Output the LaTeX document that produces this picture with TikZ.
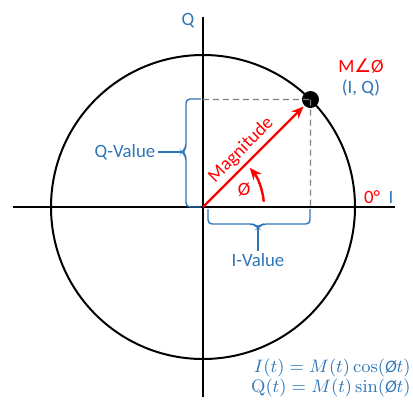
\documentclass[tikz,border=0pt]{standalone}
\usepackage{amsmath,amssymb}
\usepackage[no-math]{fontspec}
\setmainfont{Carlito}
\newfontfamily\symfont{DejaVu Sans}
\usepackage{tikz}
\usetikzlibrary{arrows.meta,positioning,calc}
\definecolor{iqblue}{HTML}{2E75B6}
\definecolor{iqred}{HTML}{FF0000}
\definecolor{iqgray}{HTML}{7F7F7F}

\begin{document}
\begin{tikzpicture}[x=0.5pt,y=0.5pt,
  axis/.style={draw=black,line width=1pt},
  lbl/.style={font=\fontsize{9.4}{10}\selectfont,text=#1,inner sep=1pt},
  bracket/.style={draw=iqblue,line width=0.7pt,rounded corners=2pt},
  proj/.style={draw=iqgray,line width=0.7pt,dash pattern=on 3pt off 2pt},
  vec/.style={-{Stealth[length=6pt,width=5pt]},draw=iqred,line width=1.2pt},
  eqn/.style={text=iqblue,anchor=east,inner sep=0pt,font=\fontsize{8.8}{10}\selectfont}
]
\useasboundingbox (-203,-196) rectangle (210,207);
\coordinate (O) at (0,0);
\coordinate (xl) at (-190,0); \coordinate (xr) at (192,0);
\coordinate (yb) at (0,-190); \coordinate (yt) at (0,190);
\draw[axis] (xl) -- (xr);
\draw[axis] (yb) -- (yt);
\draw[axis] (O) circle[radius=76pt];
\node[circle,fill=black,inner sep=0pt,minimum size=8.5pt] (pt) at (45:152) {};
% projections
\draw[proj] (0,107.5) -- (pt.center);
\draw[proj] (pt.center) -- (107.5,0);
% axis labels
\node[lbl=iqblue] (qax) at (-15,186) {Q};
\node[lbl=iqred] (zero) at (169,10) {0°};
\node[lbl=iqblue] (iax) at (188,10) {I};
\node[lbl=iqred] (polar) at (158,141) {M{\symfont ∠}Ø};
\node[lbl=iqblue] (rect) at (158,119) {(I, Q)};
% Q-Value bracket
\draw[bracket] (-2,108) -- (-17,108) -- (-17,59) -- (-21,55) -- (-17,51) -- (-17,0) -- (-2,0);
\coordinate (qtip) at (-21,55);
\node[lbl=iqblue] (qval) at (-78,55) {Q-Value};
\draw[bracket] (qtip) -- (qval.east);
% I-Value bracket
\draw[bracket] (5,-2) -- (5,-17) -- (51,-17) -- (55,-21) -- (59,-17) -- (107,-17) -- (107,-2);
\coordinate (itip) at (55,-21);
\node[lbl=iqblue] (ival) at (55,-53) {I-Value};
\draw[bracket] (itip) -- (ival.north);
% vector and angle
\draw[vec,shorten >=0.5pt] (O) -- (pt) node[pos=0.47,sloped,above=1pt,lbl=iqred] (mag) {Magnitude};
\draw[vec] (5:61) arc[start angle=5,end angle=40,radius=30.5pt];
\node[lbl=iqred] (phi) at (41,17) {Ø};
% equations
\node[eqn] (eqi) at (208,-161) {$I(t) = M(t)\cos(\mbox{\itshape Ø}t)$};
\node[eqn] (eqq) at (208,-181) {$\mathrm{Q}(t) = M(t)\sin(\mbox{\itshape Ø}t)$};
\end{tikzpicture}
\end{document}
